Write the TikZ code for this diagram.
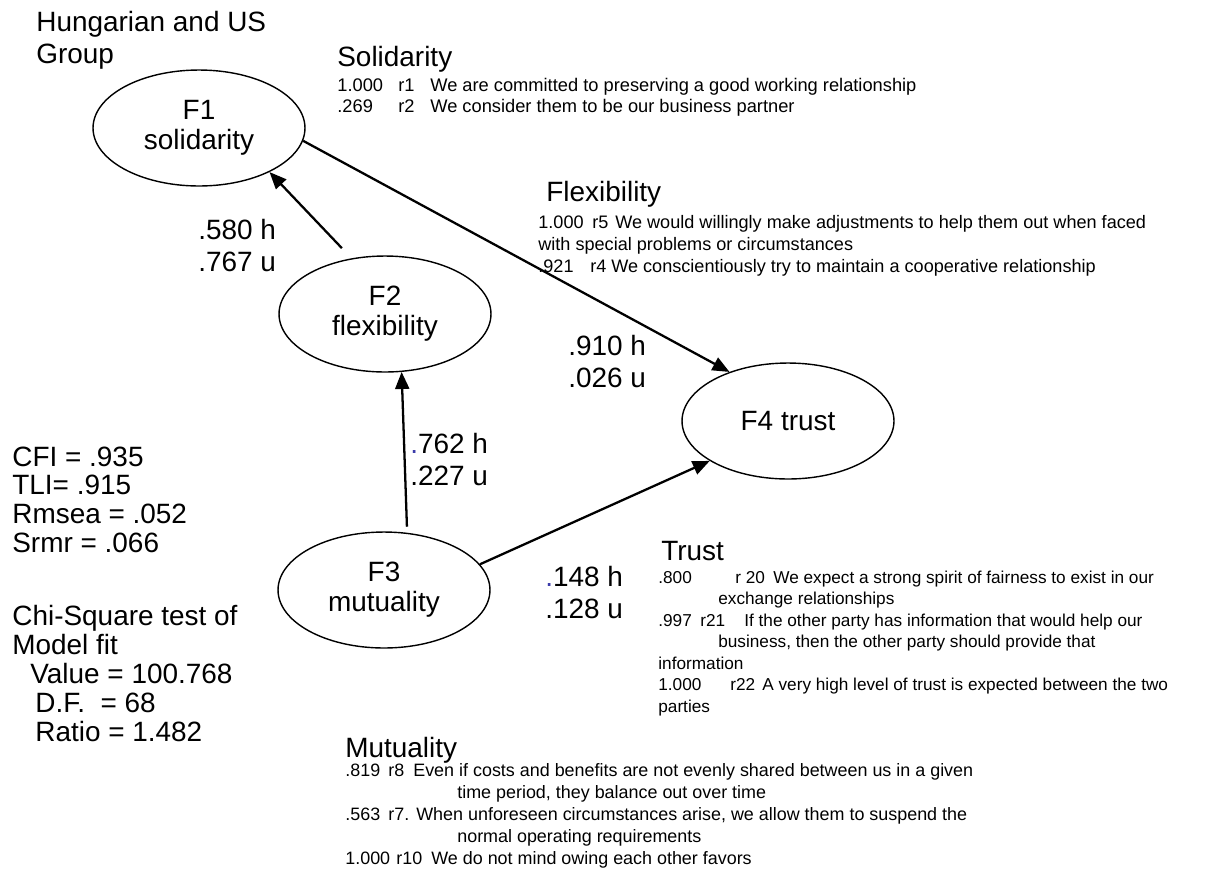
\documentclass[tikz,border=0pt]{standalone}
\usepackage{fontspec}
\setmainfont{Liberation Sans}
\usetikzlibrary{arrows.meta, shapes.geometric}
\definecolor{dotblue}{RGB}{60,60,170}
\newcommand{\bigtxt}{\fontsize{15.9}{18}\selectfont}
\newcommand{\cell}[2]{\makebox[#1][l]{#2}}

\begin{document}
\begin{tikzpicture}[x=0.02cm, y=-0.02cm,
    factor/.style={ellipse, draw, line width=0.8pt, minimum width=4.24cm,
      minimum height=2.32cm, inner sep=0pt, align=center,
      font=\fontsize{15.9}{17}\selectfont},
    link/.style={line width=1.3pt, -{Triangle[length=0.34cm, width=0.28cm]}},
    coef/.style={font=\bigtxt, align=left, anchor=base west, inner sep=0pt},
    head/.style={font=\bigtxt, anchor=base west, inner sep=0pt},
    items/.style={align=left, anchor=base west, inner sep=0pt}]
    \useasboundingbox (0,0) rectangle (1207,870);

    % factors
    \node[factor] (f1) at (199,128) {F1\\solidarity};
    \node[factor] (f2) at (385,314) {F2\\flexibility};
    \node[factor] (f3) at (384,590) {F3\\mutuality};
    \node[factor] (f4) at (788,421) {F4 trust};

    % paths
    \draw[link, shorten <=0.28cm] (f2.121) -- (f1.-32);
    \draw[link] (f1.-7) -- (f4.140);
    \draw[link, shorten <=0.12cm] (f3.68) -- (f2.-74);
    \draw[link] (f3.15) -- (f4.-153);

    % coefficients (node base = last line)
    \node[coef] (c21) at (198,271) {.580 h\\.767 u};
    \node[coef] (c14) at (568,387) {.910 h\\.026 u};
    \node[coef] (c32) at (410,485) {\textcolor{dotblue}{.}762 h\\.227 u};
    \node[coef] (c34) at (545,618) {\textcolor{dotblue}{.}148 h\\.128 u};

    \node[coef] (group) at (36,63) {Hungarian and US\\Group};

    % item blocks
    \node[head] (hsol) at (337,66) {Solidarity};
    \node[items, font=\fontsize{10.4}{11.6}\selectfont] (isol) at (337,112)
      {\cell{1.22cm}{1.000}\cell{0.64cm}{r1}We are committed to preserving a good working relationship\\
      \cell{1.22cm}{.269}\cell{0.64cm}{r2}We consider them to be our business partner};

    \node[head] (hflex) at (546,201) {Flexibility};
    \node[items, font=\fontsize{10.3}{12.5}\selectfont] (iflex) at (538,272)
      {\cell{1.08cm}{1.000}\cell{0.46cm}{r5}We would willingly make adjustments to help them out when faced\\
      with special problems or circumstances\\
      \cell{1.04cm}{.921}\cell{0.42cm}{r4}We conscientiously try to maintain a cooperative relationship};

    \node[head] (htrust) at (661,560) {Trust};
    \node[items, font=\fontsize{9.8}{12.2}\selectfont] (itrust) at (658,712)
      {\cell{1.54cm}{.800}\cell{0.76cm}{r 20}We expect a strong spirit of fairness to exist in our\\
      \hspace*{1.2cm}exchange relationships\\
      \cell{0.84cm}{.997}\cell{0.88cm}{r21}If the other party has information that would help our\\
      \hspace*{1.2cm}business, then the other party should provide that\\
      information\\
      \cell{1.44cm}{1.000}\cell{0.64cm}{r22}A very high level of trust is expected between the two\\
      parties};

    \node[head] (hmut) at (345,757) {Mutuality};
    \node[items, font=\fontsize{10.2}{12.4}\selectfont] (imut) at (345,864)
      {\cell{0.86cm}{.819}\cell{0.5cm}{r8}Even if costs and benefits are not evenly shared between us in a given\\
      \hspace*{2.24cm}time period, they balance out over time\\
      \cell{0.86cm}{.563}\cell{0.56cm}{r7.}When unforeseen circumstances arise, we allow them to suspend the\\
      \hspace*{2.24cm}normal operating requirements\\
      \cell{1.02cm}{1.000}\cell{0.7cm}{r10}We do not mind owing each other favors};

    % fit indices
    \node[coef, font=\fontsize{15.9}{16.3}\selectfont] (fit) at (12,552)
      {CFI = .935\\TLI= .915\\Rmsea = .052\\Srmr = .066};
    \node[coef, font=\fontsize{15.9}{16.4}\selectfont] (chi) at (12,741)
      {Chi-Square test of\\Model fit\\
      \hspace*{0.36cm}Value = 100.768\\\hspace*{0.46cm}D.F.~~= 68\\\hspace*{0.46cm}Ratio = 1.482};
\end{tikzpicture}
\end{document}
